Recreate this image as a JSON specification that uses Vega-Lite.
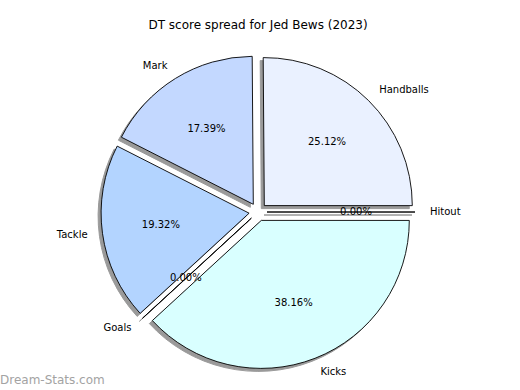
{
  "$schema": "https://vega.github.io/schema/vega-lite/v6.json",
  "width": 516,
  "height": 360,
  "autosize": {"type": "none"},
  "padding": {"left": 0, "top": 32, "right": 4, "bottom": 0},
  "background": "white",
  "title": {"text": "DT score spread for Jed Bews (2023)", "font": "DejaVu Sans", "fontSize": 12, "fontWeight": "normal", "color": "black", "anchor": "middle", "baseline": "alphabetic", "offset": -9},
  "config": {"view": {"stroke": null}, "text": {"font": "DejaVu Sans"}},
  "datasets": {
    "dt": [
      {"part": "Handballs", "share": 0.2512, "idx": 1},
      {"part": "Hitout", "share": 0.0, "idx": 2},
      {"part": "Kicks", "share": 0.3816, "idx": 3},
      {"part": "Goals", "share": 0.0, "idx": 4},
      {"part": "Tackle", "share": 0.1932, "idx": 5},
      {"part": "Mark", "share": 0.1739, "idx": 6}
    ]
  },
  "data": {"name": "dt"},
  "resolve": {"scale": {"xOffset": "independent", "yOffset": "independent"}},
  "layer": [
    {
      "transform": [{"stack": "share", "groupby": [], "sort": [{"field": "idx", "order": "ascending"}], "as": ["s0", "s1"]}],
      "mark": {"type": "arc", "radius": 148, "stroke": "#9a9a9a", "strokeWidth": 1},
      "encoding": {
        "theta": {"field": "s0", "type": "quantitative", "scale": {"range": [-0.0075, 6.2757]}},
        "theta2": {"field": "s1"},
        "color": {"value": "#9a9a9a"},
        "xOffset": {"field": "idx", "type": "quantitative", "scale": {"type": "linear", "zero": false, "nice": false, "domain": [1, 2, 3, 4, 5, 6], "range": [3.3, 6, 0.3, -9.6, -11.9, -7.7]}},
        "yOffset": {"field": "idx", "type": "quantitative", "scale": {"type": "linear", "zero": false, "nice": false, "domain": [1, 2, 3, 4, 5, 6], "range": [-3.4, 3, 11.4, 9.1, 4.2, -4.7]}}
      }
    },
    {
      "transform": [{"stack": "share", "groupby": [], "sort": [{"field": "idx", "order": "ascending"}], "as": ["s0", "s1"]}],
      "mark": {"type": "arc", "radius": 148, "stroke": "black", "strokeWidth": 0.9},
      "encoding": {
        "theta": {"field": "s0", "type": "quantitative"},
        "theta2": {"field": "s1"},
        "color": {"field": "part", "type": "nominal", "legend": null, "scale": {"domain": ["Handballs", "Hitout", "Kicks", "Goals", "Tackle", "Mark"], "range": ["#EAF1FF", "#DCE8FF", "#D9FFFF", "#C8E0FF", "#B3D4FF", "#C3D8FF"]}},
        "xOffset": {"field": "idx", "type": "quantitative", "scale": {"type": "linear", "zero": false, "nice": false, "domain": [1, 2, 3, 4, 5, 6], "range": [6.3, 9, 3.3, -6.6, -8.9, -4.7]}},
        "yOffset": {"field": "idx", "type": "quantitative", "scale": {"type": "linear", "zero": false, "nice": false, "domain": [1, 2, 3, 4, 5, 6], "range": [-6.4, 0, 8.4, 6.1, 1.2, -7.7]}}
      }
    },
    {
      "mark": {"type": "text", "radius": 98, "fontSize": 10, "font": "DejaVu Sans", "color": "black"},
      "encoding": {
        "theta": {"field": "share", "type": "quantitative", "stack": true},
        "order": {"field": "idx", "type": "quantitative"},
        "text": {"field": "share", "type": "quantitative", "format": ".2%"}
      }
    },
    {
      "mark": {"type": "text", "radius": 172, "fontSize": 10, "font": "DejaVu Sans", "color": "black", "align": "left", "baseline": "middle"},
      "encoding": {
        "theta": {"field": "share", "type": "quantitative", "stack": true},
        "order": {"field": "idx", "type": "quantitative"},
        "text": {"field": "part", "type": "nominal"},
        "opacity": {"condition": {"test": "datum.idx <= 3", "value": 1}, "value": 0}
      }
    },
    {
      "mark": {"type": "text", "radius": 172, "fontSize": 10, "font": "DejaVu Sans", "color": "black", "align": "right", "baseline": "middle"},
      "encoding": {
        "theta": {"field": "share", "type": "quantitative", "stack": true},
        "order": {"field": "idx", "type": "quantitative"},
        "text": {"field": "part", "type": "nominal"},
        "opacity": {"condition": {"test": "datum.idx > 3", "value": 1}, "value": 0}
      }
    },
    {
      "data": {"values": [{"t": "Dream-Stats.com"}]},
      "mark": {"type": "text", "align": "left", "baseline": "middle", "fontSize": 12, "font": "DejaVu Sans", "color": "#a3a3a3"},
      "encoding": {
        "text": {"field": "t", "type": "nominal"},
        "x": {"value": 0},
        "y": {"value": 348}
      }
    }
  ]
}
